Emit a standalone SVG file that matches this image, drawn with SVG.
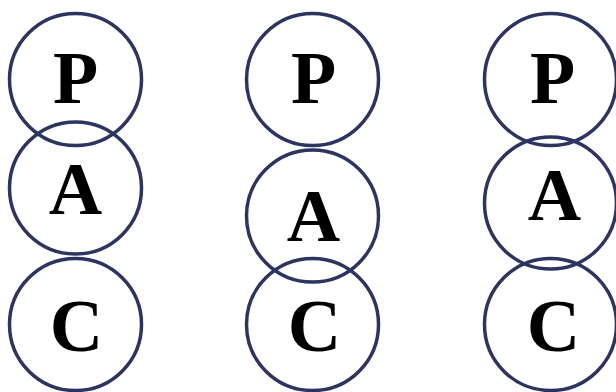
<svg xmlns="http://www.w3.org/2000/svg" width="616" height="392" viewBox="0 0 616 392">
<style>
.ring{fill:none;stroke:#2c3560;stroke-width:3.5}
.lbl{font-family:"Liberation Serif","Times New Roman",serif;font-weight:bold;font-size:74px;fill:#000;text-anchor:middle}
</style>
<rect width="616" height="392" fill="#fff"/>
<g id="col1">
<g id="p1"><circle class="ring" cx="75.5" cy="79.5" r="66"/><text class="lbl" x="75.5" y="103">P</text></g>
<g id="a1"><circle class="ring" cx="75.5" cy="188" r="66"/><text class="lbl" x="75.5" y="214">A</text></g>
<g id="c1"><circle class="ring" cx="75.5" cy="324.5" r="66"/><text class="lbl" x="76.5" y="351">C</text></g>
</g>
<g id="col2">
<g id="p2"><circle class="ring" cx="312.5" cy="79.5" r="66"/><text class="lbl" x="313.5" y="103">P</text></g>
<g id="a2"><circle class="ring" cx="312.5" cy="216" r="66"/><text class="lbl" x="313.5" y="241">A</text></g>
<g id="c2"><circle class="ring" cx="312.5" cy="324.5" r="66"/><text class="lbl" x="314.5" y="351">C</text></g>
</g>
<g id="col3">
<g id="p3"><circle class="ring" cx="550.5" cy="79.5" r="66"/><text class="lbl" x="552.5" y="103">P</text></g>
<g id="a3"><circle class="ring" cx="550.5" cy="203" r="66"/><text class="lbl" x="554.5" y="220">A</text></g>
<g id="c3"><circle class="ring" cx="550.5" cy="324.5" r="66"/><text class="lbl" x="553.5" y="351">C</text></g>
</g>
<g id="connectors"></g>
</svg>
